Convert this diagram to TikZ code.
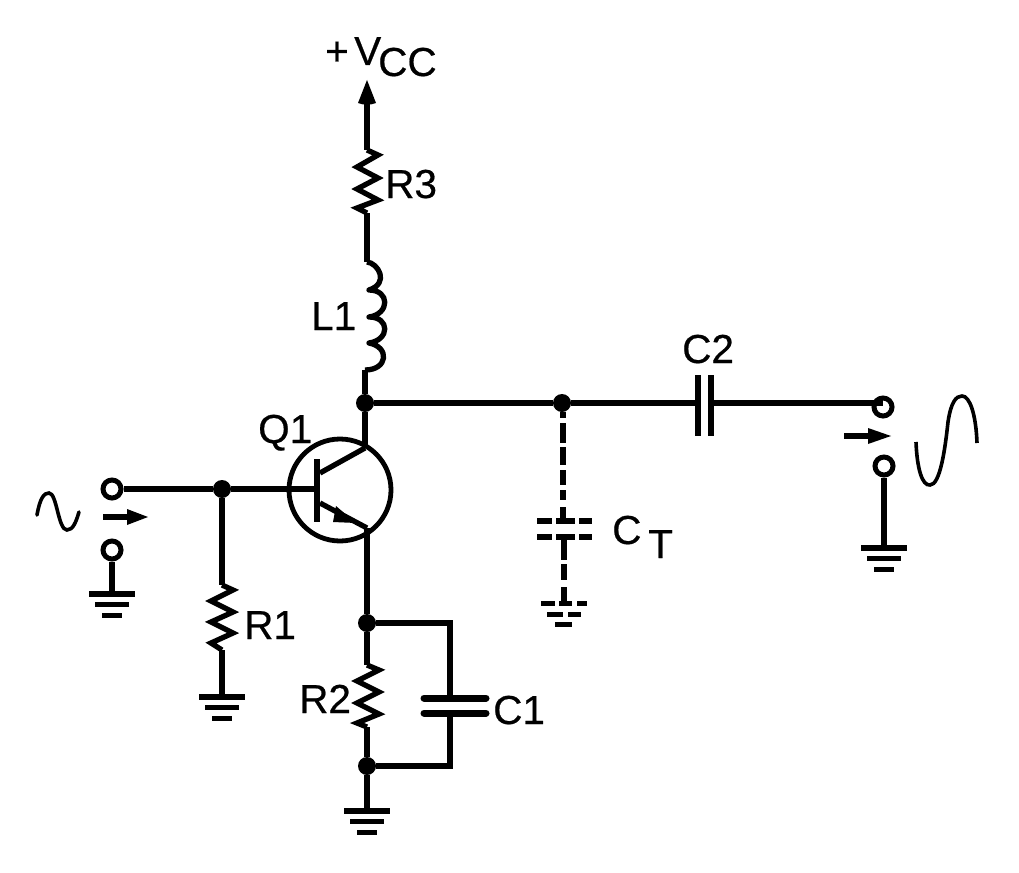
\documentclass[tikz,border=0pt]{standalone}
\usepackage{fontspec}
\setmainfont{Liberation Sans}[BoldFont=Liberation Sans,BoldFeatures={FakeBold=0.5}]
\tikzset{
  wire/.style={line width=5.3pt,line join=miter},
  coil/.style={line width=5.3pt,line join=round},
  thinwave/.style={line width=3.6pt,line cap=round},
  dot/.style={circle,fill=black,draw=none,minimum size=18pt,inner sep=0pt},
  term/.style={circle,draw=black,fill=white,line width=5pt,minimum size=18pt,inner sep=0pt},
  lab/.style={font=\fontsize{40.5}{40.5}\selectfont\bfseries,anchor=base west,inner sep=0pt},
  gnd/.pic={
    \draw[line width=6pt] (-23,0) -- (23,0);
    \draw[line width=5.6pt] (-17,10.5) -- (17,10.5);
    \draw[line width=5.6pt] (-10,21.5) -- (10,21.5);
  },
  dgnd/.pic={
    \draw[line width=5pt] (-23,0) -- (-9,0) (-5,0) -- (8,0) (13,0) -- (23,0);
    \draw[line width=5pt] (-17,11) -- (-1,11) (4,11) -- (17,11);
    \draw[line width=5pt] (-9,21) -- (8,21);
  }
}
\begin{document}
\begin{tikzpicture}[x=1pt,y=-1pt]
\useasboundingbox (0,0) rectangle (1019,872);
% junctions and terminals
\node[dot] (jc) at (365,403) {};
\node[dot] (jo) at (562,403) {};
\node[dot] (jb) at (222,489) {};
\node[dot] (je) at (367,623) {};
\node[dot] (jg) at (367,766) {};
\node[term] (tin) at (112,489) {};
\node[term] (tig) at (112,550) {};
\node[term] (tout) at (883,407) {};
\node[term] (tog) at (884,466) {};
\coordinate (vcc) at (367,80);
\coordinate (vccb) at (367,100);
\coordinate (r3t) at (367,150);
\coordinate (r3b) at (367,213);
\coordinate (l1t) at (367,262);
\coordinate (l1b) at (365,370);
\coordinate (c2l) at (698,403);
\coordinate (c2r) at (711,403);
\coordinate (qc) at (365,448);
\coordinate (qe) at (367,528);
\coordinate (qbase) at (317,489);
\coordinate (r1t) at (222,585);
\coordinate (r1b) at (222,650);
\coordinate (r2t) at (367,665);
\coordinate (r2b) at (367,727);
\coordinate (c1t) at (450,698);
\coordinate (c1b) at (450,713);
\coordinate (g1) at (112,594);
\coordinate (g2) at (222,697);
\coordinate (g3) at (367,811);
\coordinate (g4) at (884,548);
\coordinate (g5) at (564,603);
% supply
\fill (vcc) -- (376,103) to[out=200,in=-20] (358,103) -- cycle;
\draw[wire] (vccb) -- (r3t);
\draw[wire] (r3t) -- (378,155) -- (357,167) -- (378,178) -- (357,189) -- (378,200) -- (357,208) -- (r3b);
\draw[wire] (r3b) -- (l1t);
\draw[coil] (l1t) .. controls (378,263) and (390,283) .. (369,290)
  .. controls (390,290) and (390,314) .. (369,317)
  .. controls (390,317) and (390,340) .. (369,343)
  .. controls (390,347) and (388,370) .. (l1b);
\draw[wire] (l1b) -- (jc);
% output line
\draw[wire] (jc) -- (jo);
\draw[wire] (jo) -- (c2l);
\draw[wire] (c2r) -- (c2r -| tout);
\draw[wire] (698,375) -- (698,436);
\draw[wire] (711,375) -- (711,436);
% transistor
\draw[line width=4.8pt] (340,490) circle (51);
\draw[wire] (jb) -- (qbase);
\draw[line width=5.6pt] (317,459) -- (317,522);
\draw[wire] (jc) -- (qc);
\draw[wire] (320,473) -- (qc);
\draw[wire] (320,503) -- (qe);
\fill (356,523) -- (336,506) -- (333,522) -- cycle;
\draw[wire] (qe) -- (je);
% base input
\draw[wire] (tin) -- (jb);
\draw[wire] (tig) -- (g1);
\pic at (g1) {gnd};
\draw[wire] (103,517) -- (130,517);
\fill (148,517) -- (127,509) -- (127,525) -- cycle;
\draw[thinwave] (37,515) .. controls (40,498) and (44,493) .. (49,493)
  .. controls (57,493) and (58,530) .. (67,530)
  .. controls (73,530) and (76,522) .. (79,512);
% R1
\draw[wire] (jb) -- (r1t);
\draw[wire] (r1t) -- (233,590) -- (211,601) -- (233,612) -- (211,622) -- (233,633) -- (211,643) -- (r1b);
\draw[wire] (r1b) -- (g2);
\pic at (g2) {gnd};
% R2 C1
\draw[wire] (je) -- (r2t);
\draw[wire] (r2t) -- (379,670) -- (357,681) -- (379,692) -- (357,703) -- (379,714) -- (357,723) -- (r2b);
\draw[wire] (r2b) -- (jg);
\draw[wire] (jg) -- (g3);
\pic at (g3) {gnd};
\draw[wire] (je) -- (450,623) -- (c1t);
\draw[wire] (jg) -- (450,766) -- (c1b);
\draw[line width=7pt,line cap=round] (424,698) -- (486,698);
\draw[line width=7pt,line cap=round] (424,713) -- (486,713);
% CT dashed
\draw[wire] (563,412) -- (563,418) (563,423) -- (563,443) (563,447) -- (563,465) (563,470) -- (563,485) (563,490) -- (563,500) (563,507) -- (563,521);
\draw[line width=6pt] (537,521) -- (552,521) (556,521) -- (575,521) (579,521) -- (592,521);
\draw[line width=6pt] (537,537) -- (552,537) (556,537) -- (575,537) (579,537) -- (592,537);
\draw[wire] (564,537) -- (564,560) (564,564) -- (564,580) (564,587) -- (564,603);
\pic at (g5) {dgnd};
% output
\draw[wire] (tog) -- (g4);
\pic at (g4) {gnd};
\draw[wire] (844,436) -- (870,436);
\fill (891,436) -- (868,428) -- (868,444) -- cycle;
\draw[thinwave,line cap=butt] (916,442) .. controls (917,468) and (922,486) .. (930,485)
  .. controls (940,485) and (945,450) .. (948,422)
  .. controls (951,402) and (956,396) .. (962,396)
  .. controls (970,396) and (976,415) .. (977,443);
% labels
\node[lab] (lq1) at (258,443) {Q1};
\node[lab] (lr3) at (385,198) {R3};
\node[lab] (ll1) at (311,330) {L1};
\node[lab] (lr1) at (244,639) {R1};
\node[lab] (lr2) at (299,713) {R2};
\node[lab] (lc1) at (493,724) {C1};
\node[lab] (lc2) at (682,363) {C2};
\node[lab] (lct) at (612,544) {C};
\node[lab] (lctt) at (648,558) {T};
\node[lab] (lplus) at (325,65) {+};
\node[lab] (lv) at (354,65) {V};
\node[lab] (lcc) at (378,76) {CC};
\end{tikzpicture}
\end{document}
